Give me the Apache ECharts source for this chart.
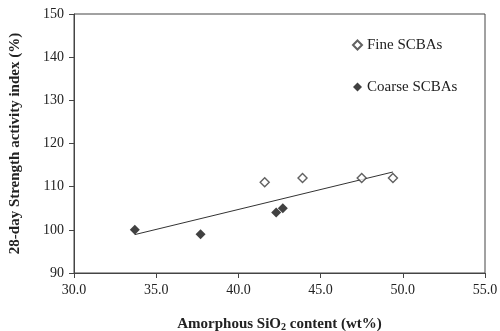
<!DOCTYPE html>
<html>
<head>
<meta charset="utf-8">
<script src="https://cdn.jsdelivr.net/npm/echarts@6/dist/echarts.min.js"></script>
<style>
  html, body { margin: 0; padding: 0; background: #fff; }
  #chart { width: 500px; height: 331px; }
</style>
</head>
<body>
<div id="chart"></div>
<script>
// Amorphous SiO2 content (wt%) vs 28-day strength activity index (%)
const fineX = [41.6, 43.9, 47.5, 49.4];
const fineY = [111, 112, 112, 112];
const coarseX = [33.7, 37.7, 42.3, 42.7];
const coarseY = [100, 99, 104, 105];
// Linear trend line end points
const trendX = [33.7, 49.4];
const trendY = [98.9, 113.4];

const seriesNames = ['Fine SCBAs', 'Coarse SCBAs'];

const pairs = (xs, ys) => xs.map((x, i) => [x, ys[i]]);

const FONT = '"Liberation Serif", "Times New Roman", serif';
const INK = '#222';

const chart = echarts.init(document.getElementById('chart'), null, { renderer: 'canvas' });
chart.setOption({
  animation: false,
  backgroundColor: '#fff',
  textStyle: { fontFamily: FONT, color: INK },
  grid: {
    left: 74, right: 15, top: 14, bottom: 58,
    outerBoundsMode: 'none',
    containLabel: false,
    show: true, borderColor: '#444', borderWidth: 1, backgroundColor: 'transparent'
  },
  legend: {
    orient: 'vertical',
    left: 347,
    top: 32,
    itemWidth: 9,
    itemHeight: 9,
    itemGap: 26,
    icon: 'diamond',
    data: seriesNames,
    textStyle: { fontFamily: FONT, fontSize: 15, color: INK, lineHeight: 16 }
  },
  xAxis: {
    type: 'value',
    min: 30, max: 55, interval: 5,
    splitLine: { show: false },
    axisLine: { onZero: false, lineStyle: { color: '#444', width: 1 } },
    axisTick: { show: true, inside: false, length: 5, lineStyle: { color: '#444' } },
    axisLabel: {
      fontFamily: FONT, fontSize: 14, color: INK, margin: 10,
      formatter: v => v.toFixed(1)
    },
    name: 'Amorphous SiO{sub|2} content (wt%)',
    nameLocation: 'middle',
    nameGap: 43,
    nameTextStyle: {
      fontFamily: FONT, fontSize: 15, fontWeight: 'bold', color: INK,
      rich: { sub: { fontFamily: FONT, fontSize: 10, fontWeight: 'bold', color: INK, verticalAlign: 'bottom', padding: [6, 0, 0, 0] } }
    }
  },
  yAxis: {
    type: 'value',
    min: 90, max: 150, interval: 10,
    splitLine: { show: false },
    axisLine: { onZero: false, lineStyle: { color: '#444', width: 1 } },
    axisTick: { show: true, inside: false, length: 5, lineStyle: { color: '#444' } },
    axisLabel: { fontFamily: FONT, fontSize: 14, color: INK, margin: 10 },
    name: '28-day Strength activity index (%)',
    nameLocation: 'middle',
    nameGap: 51,
    nameTextStyle: { fontFamily: FONT, fontSize: 15, fontWeight: 'bold', color: INK }
  },
  series: [
    {
      name: seriesNames[0],
      type: 'scatter',
      symbol: 'diamond',
      symbolSize: 9,
      data: pairs(fineX, fineY),
      itemStyle: { color: '#fff', borderColor: '#3a3a3a', borderWidth: 1.4 },
      z: 3
    },
    {
      name: seriesNames[1],
      type: 'scatter',
      symbol: 'diamond',
      symbolSize: 10,
      data: pairs(coarseX, coarseY),
      itemStyle: { color: '#111' },
      z: 3
    },
    {
      name: 'trend',
      type: 'line',
      data: pairs(trendX, trendY),
      showSymbol: false,
      symbol: 'none',
      lineStyle: { color: '#333', width: 1 },
      z: 2
    }
  ]
});
</script>
</body>
</html>
